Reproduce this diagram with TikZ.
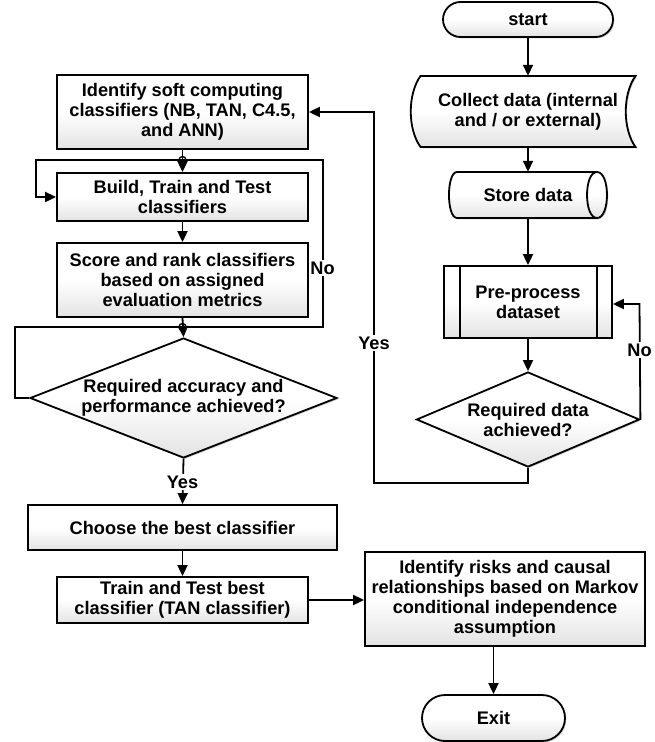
\documentclass[tikz,border=0pt]{standalone}
\usepackage{fontspec}
\setmainfont{Liberation Sans}
\usetikzlibrary{arrows.meta,shapes.misc,shapes.geometric,shadows}

\begin{document}
\begin{tikzpicture}[x=1pt,y=-1pt,
  every node/.style={font=\fontsize{18.2}{20}\selectfont\bfseries, align=center, inner sep=0pt},
  flow/.style={line width=1.8pt, draw=black, line join=miter},
  arr/.style={flow, -{Triangle[length=11pt,width=10pt]}},
  grad/.style={top color=white, bottom color=black!11, middle color=white,
               drop shadow={shadow xshift=1.3pt, shadow yshift=-1.3pt, fill=black!40, opacity=0.5}},
  proc/.style={rectangle, flow, grad},
  term/.style={rounded rectangle, flow, grad},
  decision/.style={diamond, flow, grad, aspect=2.5},
  lbl/.style={fill=white, inner sep=1.5pt},
  hop/.style={line width=1.4pt, draw=black}
]
\useasboundingbox (0,0) rectangle (655,742);

% ---------- left column: classifier building ----------
\node[proc, minimum width=251pt, minimum height=74pt] (ident) at (182.5,112)
  {Identify soft computing\\classifiers (NB, TAN, C4.5,\\and ANN)};
\node[proc, minimum width=251pt, minimum height=48pt] (build) at (182.5,197)
  {Build, Train and Test\\classifiers};
\node[proc, minimum width=251pt, minimum height=74pt] (score) at (182.5,280)
  {Score and rank classifiers\\based on assigned\\evaluation metrics};
\node[decision, minimum width=307pt, minimum height=120pt] (acc) at (183.5,398)
  {Required accuracy and\\performance achieved?};
\node[proc, minimum width=309pt, minimum height=45pt] (choose) at (182.5,527.5)
  {Choose the best classifier};
\node[proc, minimum width=251pt, minimum height=46pt] (train) at (182.5,600)
  {Train and Test best\\classifier (TAN classifier)};
\node[proc, minimum width=280pt, minimum height=94pt] (risks) at (505,599)
  {Identify risks and causal\\relationships based on Markov\\conditional independence\\assumption};
\node[term, minimum width=143pt, minimum height=46pt] (exit) at (493.5,718) {Exit};

% junction points on the feedback lines
\coordinate (j1) at (182.5,160);
\coordinate (j2) at (182.5,327);

% ---------- right column: data preparation ----------
\node[term, minimum width=170pt, minimum height=35pt] (start) at (528,19.5) {start};

% stored-data outline for the collection step
\draw[flow, grad] (420.5,76) -- (635.5,76)
  .. controls (622.5,94) and (622.5,129) .. (635.5,147) -- (420.5,147)
  .. controls (407.5,129) and (407.5,94) .. (420.5,76) -- cycle;
\node[minimum width=215pt, minimum height=71pt] (collect) at (528,111.5)
  {Collect data (internal\\and / or external)};

% direct-data (cylinder) outline for storage
\draw[flow, grad] (457,172) -- (597,172)
  .. controls (610.3,172) and (610.3,218) .. (597,218) -- (457,218)
  .. controls (446.3,218) and (446.3,172) .. (457,172) -- cycle;
\draw[flow] (597,172) .. controls (583.7,172) and (583.7,218) .. (597,218);
\node[minimum width=158pt, minimum height=46pt] (store) at (528,195) {Store data};

% predefined process
\node[proc, minimum width=168pt, minimum height=72pt] (pre) at (528,302) {Pre-process\\dataset};
\draw[flow] ([xshift=17pt]pre.north west) -- ([xshift=17pt]pre.south west);
\draw[flow] ([xshift=-16pt]pre.north east) -- ([xshift=-16pt]pre.south east);

\node[decision, minimum width=223pt, minimum height=95pt] (data) at (528,419.5)
  {Required data\\achieved?};

% ---------- connectors: right column ----------
\draw[arr] (start) -- (collect);
\draw[arr] (collect) -- (store);
\draw[arr] (store) -- (pre);
\draw[arr] (pre) -- (data);
\draw[arr] (data.east) -- (639.5,304) -- (pre.east |- 0,304);
\draw[arr] (data.south) -- (528,483) -- (374,483) -- (374,112) -- (ident.east);

% ---------- connectors: left column ----------
\draw[arr] (ident.south) -- (build.north);
\draw[arr] (j1) -- (36,160) -- (36,197) -- (build.west);
\draw[flow] (j1) -- (323,160) -- (323,327) -- (j2);
\draw[arr] (build) -- (score);
\draw[arr] (score.south) -- (acc.north);
\draw[flow] (j2) -- (15,327) -- (15,398) -- (acc.west);
\draw[arr] (acc.south) -- (choose.north);
\draw[arr] (choose) -- (train);
\draw[arr] (train.east) -- (risks.west |- train.east);
\draw[arr] (exit.north |- risks.south) -- (exit.north);

% line hops at the junctions
\draw[hop] (j1) circle[radius=3.5pt];
\draw[hop] (j2) circle[radius=3.5pt];

% branch labels
\node[lbl] (no1) at (322.5,268) {No};
\node[lbl] (yes1) at (182.5,482) {Yes};
\node[lbl] (no2) at (639.5,350) {No};
\node[lbl] (yes2) at (374,343) {Yes};
\end{tikzpicture}
\end{document}
